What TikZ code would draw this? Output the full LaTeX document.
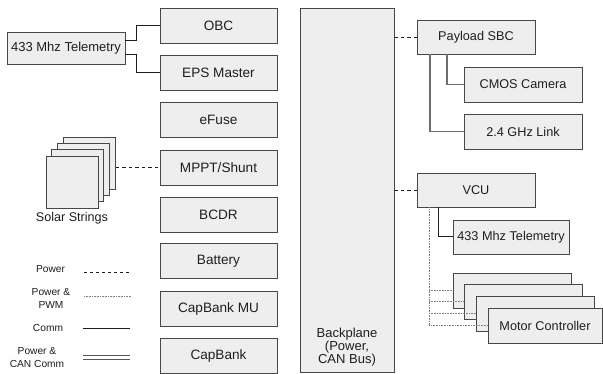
\documentclass[tikz,border=0pt]{standalone}
\usepackage{fontspec}
\setmainfont{Liberation Sans}
\definecolor{boxfill}{HTML}{EEEEEE}
\definecolor{boxline}{HTML}{474747}
\definecolor{txt}{HTML}{1E1E1E}
\definecolor{busline}{HTML}{555555}
\definecolor{linkgray}{HTML}{6E6E6E}
\pgfdeclarelayer{bg}
\pgfsetlayers{bg,main}
\begin{document}
\begin{tikzpicture}[x=1pt,y=-1pt,
  box/.style={draw=boxline, fill=boxfill, line width=0.95pt, rectangle, inner sep=0pt, text=txt},
  lbox/.style={box, minimum width=117pt, minimum height=35pt, font=\fontsize{13.6}{15}\selectfont},
  rbox/.style={box, minimum width=118pt, minimum height=34pt, font=\fontsize{12.7}{14}\selectfont},
  sqbox/.style={box, minimum width=52pt, minimum height=52pt},
  bus/.style={draw=busline, double=white, double distance=3pt, line width=0.8pt},
  pwr/.style={draw=txt, line width=0.9pt, dash pattern=on 3.5pt off 3pt},
  pwm/.style={draw=gray, line width=0.7pt, dash pattern=on 0.8pt off 0.8pt},
  comm/.style={draw=txt, line width=1pt},
  sub/.style={draw=linkgray, line width=1.2pt},
  legtxt/.style={text=txt, font=\fontsize{10.2}{13}\selectfont, align=center, inner sep=0pt},
]
\fill[white] (0,0) rectangle (603,374);
\useasboundingbox (0,0) rectangle (603,374);

% backplane
\node[box, minimum width=94pt, minimum height=364pt] (bp) at (347,190) {};
\node[text=txt, font=\fontsize{13}{11.5}\selectfont, align=center, inner sep=0pt] (bptxt) at (347,347) {Backplane\\(Power,\\CAN Bus)};

% boards on the backplane
\node[lbox] (obc)  at (218.5,25.5)  {OBC};
\node[lbox] (eps)  at (218.5,72.5)  {EPS Master};
\node[lbox] (efu)  at (218.5,120)   {eFuse};
\node[lbox] (mppt) at (218.5,167.5) {MPPT/Shunt};
\node[lbox] (bcdr) at (218.5,214.5) {BCDR};
\node[lbox] (bat)  at (218.5,261)   {Battery};
\node[lbox] (cbmu) at (218.5,308.5) {CapBank MU};
\node[lbox] (cb)   at (218.5,355.5) {CapBank};

% telemetry radio
\node[box, minimum width=118pt, minimum height=32pt, font=\fontsize{13}{15}\selectfont] (tel) at (66,48) {433 Mhz Telemetry};

% solar strings stack
\node[sqbox] (ss1) at (89.5,163) {};
\node[sqbox] (ss2) at (83.5,169) {};
\node[sqbox] (ss3) at (77.5,175) {};
\node[sqbox] (ss4) at (72,182) {};
\node[text=txt, font=\fontsize{12.6}{14}\selectfont, inner sep=0pt] (sslab) at (72,218) {Solar Strings};

% payload side
\node[rbox] (sbc)  at (476,37)    {Payload SBC};
\node[rbox, minimum height=35pt] (cmos) at (523,84.5)  {CMOS Camera};
\node[rbox, minimum height=35pt] (lnk)  at (523,131.5) {2.4 GHz Link};

% vehicle side
\node[rbox] (vcu)  at (476,190) {VCU};
\node[rbox, minimum width=116pt] (tel2) at (511,237) {433 Mhz Telemetry};
\node[rbox, minimum height=35pt] (mc1) at (512,290.5) {};
\node[rbox, minimum height=35pt] (mc2) at (523,301.5) {};
\node[rbox, minimum height=35pt] (mc3) at (535,313.5) {};
\node[rbox, minimum height=35pt, minimum width=114pt] (mc4) at (545,325.5) {Motor Controller};

% double bus lines behind the boxes
\begin{pgfonlayer}{bg}
  \foreach \b in {obc,eps,efu,mppt,bcdr,bat,cbmu,cb}
    \draw[bus] (\b.east) -- (\b.east -| bp.west);
\end{pgfonlayer}

\draw[comm] ([yshift=7pt]tel.east) -- ++(11pt,0) |- (obc.west);
\draw[comm] ([yshift=-7pt]tel.east) -- ++(11pt,0) |- (eps.west);
\draw[pwr] (ss1.east |- mppt.west) -- (mppt.west);

\draw[pwr] (sbc.west -| bp.east) -- (sbc.west);
\draw[pwr] (vcu.west -| bp.east) -- (vcu.west);
\draw[sub] ([xshift=-29pt]sbc.south) |- (cmos.west);
\draw[sub] ([xshift=-46pt]sbc.south) |- (lnk.west);
\draw[comm] ([xshift=-38pt]vcu.south) |- (tel2.west);

\coordinate (vtap) at ([xshift=-47pt]vcu.south);
\draw[pwm] (vtap) |- (mc4.west);
\draw[pwm] (vtap |- mc1.west) -- (mc1.west);
\draw[pwm] (vtap |- mc2.west) -- (mc2.west);
\draw[pwm] (vtap |- mc3.west) -- (mc3.west);

% legend
\node[legtxt] (lg1) at (50.5,269) {Power};
\node[legtxt] (lg2) at (51,298.5) {Power \&\\PWM};
\node[legtxt] (lg3) at (48,328) {Comm};
\node[legtxt] (lg4) at (37,357.5) {Power \&\\CAN Comm};
\draw[pwr, line width=0.8pt, dash pattern=on 3pt off 3pt] (84,272) -- (131,272);
\draw[pwm] (84,296) -- (131,296);
\draw[comm] (83,329) -- (130,329);
\draw[bus] (83,357.5) -- (130,357.5);
\end{tikzpicture}
\end{document}
